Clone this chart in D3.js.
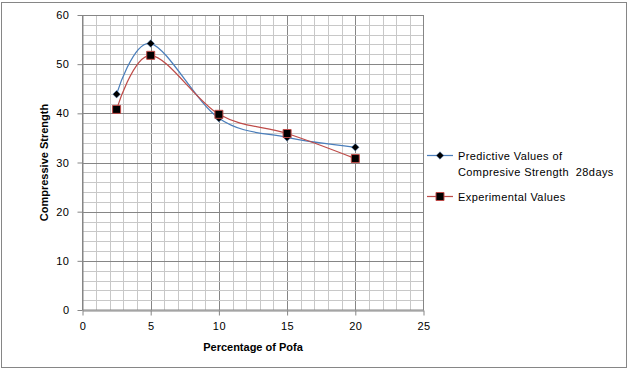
<!DOCTYPE html>
<html>
<head>
<meta charset="utf-8">
<title>Compressive Strength vs Pofa</title>
<script src="https://d3js.org/d3.v7.min.js"></script>
<style>
  body { margin: 0; background: #fff; }
  text { font-family: "Liberation Sans", Arial, sans-serif; }
</style>
</head>
<body>
<script>
// data
var pofa = [2.5, 5, 10, 15, 20];
var predicted = [43.9, 54.2, 39.0, 35.1, 33.1];
var experimental = [40.8, 51.8, 39.8, 35.9, 30.8];
var xTicks = [0, 5, 10, 15, 20, 25];
var yTicks = [0, 10, 20, 30, 40, 50, 60];
var seriesNames = ["Predictive Values of", "Compresive Strength  28days", "Experimental Values"];

var W = 629, H = 370;
var svg = d3.select("body").append("svg")
    .attr("width", W).attr("height", H);

// outer chart border
svg.append("rect")
    .attr("x", 1.5).attr("y", 2.5)
    .attr("width", 625).attr("height", 365)
    .attr("fill", "#fff").attr("stroke", "#868686");

var x = d3.scaleLinear().domain([0, 25]).range([82.5, 423.5]);
var y = d3.scaleLinear().domain([0, 60]).range([310, 15]);

var g = svg.append("g");

// gridlines, minor every 1 / 2 units, major every 5 / 10
g.selectAll(".vminor").data(d3.range(1, 25)).enter().append("line")
    .attr("x1", function(d) { return Math.round(x(d)) + 0.5; })
    .attr("x2", function(d) { return Math.round(x(d)) + 0.5; })
    .attr("y1", y(0)).attr("y2", y(60))
    .attr("stroke", function(d) { return d % 5 === 0 ? "#868686" : "#c8c8c8"; });

g.selectAll(".hminor").data(d3.range(2, 60, 2)).enter().append("line")
    .attr("x1", x(0)).attr("x2", x(25))
    .attr("y1", function(d) { return Math.round(y(d)) + 0.5; })
    .attr("y2", function(d) { return Math.round(y(d)) + 0.5; })
    .attr("stroke", function(d) { return d % 10 === 0 ? "#868686" : "#c8c8c8"; });

// plot area border
g.append("rect")
    .attr("x", x(0)).attr("y", Math.round(y(60)) + 0.5)
    .attr("width", x(25) - x(0)).attr("height", y(0) - Math.round(y(60)) - 0.5)
    .attr("fill", "none").attr("stroke", "#868686");

// axes
var xAxis = d3.axisBottom(x).tickValues(xTicks).tickSize(5).tickSizeOuter(0);
var yAxis = d3.axisLeft(y).tickValues(yTicks).tickSize(5).tickSizeOuter(0);

var gx = svg.append("g").attr("transform", "translate(0," + (y(0) + 0.5) + ")").call(xAxis);
var gy = svg.append("g").attr("transform", "translate(" + x(0) + ",0)").call(yAxis);
[gx, gy].forEach(function(a) {
  a.select(".domain").attr("stroke", "#868686");
  a.selectAll(".tick line").attr("stroke", "#868686");
  a.selectAll(".tick text").attr("fill", "#000").style("font-size", "11px")
    .style("font-family", "Liberation Sans, Arial, sans-serif")
    .style("letter-spacing", "0.5px");
});
gx.selectAll(".tick text").attr("dy", "1.1em").attr("y", 7);
gy.selectAll(".tick text").attr("x", -13);

// axis titles
svg.append("text")
    .attr("x", (x(0) + x(25)) / 2).attr("y", 351)
    .attr("text-anchor", "middle")
    .style("font-size", "11px").style("font-weight", "bold")
    .text("Percentage of Pofa");

svg.append("text")
    .attr("transform", "translate(48," + ((y(0) + y(60)) / 2) + ") rotate(-90)")
    .attr("text-anchor", "middle")
    .style("font-size", "11px").style("font-weight", "bold")
    .text("Compressive Strength");

// smoothed lines
var line = d3.line().curve(d3.curveCatmullRom.alpha(0))
    .x(function(d) { return x(d[0]); })
    .y(function(d) { return y(d[1]); });

var predPts = d3.zip(pofa, predicted);
var expPts = d3.zip(pofa, experimental);

svg.append("path").datum(predPts).attr("d", line)
    .attr("fill", "none").attr("stroke", "#4a7ebb").attr("stroke-width", 1.25);
svg.append("path").datum(expPts).attr("d", line)
    .attr("fill", "none").attr("stroke", "#be4b48").attr("stroke-width", 1.25);

var diamond = d3.symbol().type(d3.symbolDiamond2).size(36);
var square = d3.symbol().type(d3.symbolSquare).size(64);

svg.selectAll(".pred").data(predPts).enter().append("path")
    .attr("d", diamond)
    .attr("transform", function(d) { return "translate(" + x(d[0]) + "," + y(d[1]) + ")"; })
    .attr("fill", "#000").attr("stroke", "#4a7ebb").attr("stroke-width", 0.5);

svg.selectAll(".exp").data(expPts).enter().append("path")
    .attr("d", square)
    .attr("transform", function(d) { return "translate(" + x(d[0]) + "," + y(d[1]) + ")"; })
    .attr("fill", "#000").attr("stroke", "#be4b48").attr("stroke-width", 1);

// legend
var lg = svg.append("g").style("font-size", "11px").style("letter-spacing", "0.4px");
lg.append("line").attr("x1", 427).attr("x2", 453).attr("y1", 155.5).attr("y2", 155.5)
    .attr("stroke", "#4a7ebb").attr("stroke-width", 1.25);
lg.append("path").attr("d", diamond).attr("transform", "translate(440,155.5)")
    .attr("fill", "#000").attr("stroke", "#4a7ebb").attr("stroke-width", 0.5);
lg.append("text").attr("x", 458).attr("y", 159.5)
    .text(seriesNames[0]);
lg.append("text").attr("x", 458).attr("y", 175.5)
    .style("white-space", "pre").attr("xml:space", "preserve")
    .text(seriesNames[1]);

lg.append("line").attr("x1", 427).attr("x2", 453).attr("y1", 196.5).attr("y2", 196.5)
    .attr("stroke", "#be4b48").attr("stroke-width", 1.25);
lg.append("path").attr("d", square).attr("transform", "translate(440,196.5)")
    .attr("fill", "#000").attr("stroke", "#be4b48").attr("stroke-width", 1);
lg.append("text").attr("x", 458).attr("y", 200.5)
    .text(seriesNames[2]);
</script>
</body>
</html>
